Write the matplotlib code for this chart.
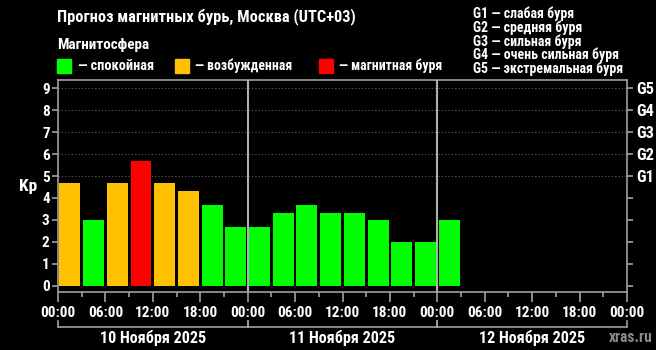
import matplotlib
matplotlib.use("Agg")
import matplotlib.pyplot as plt
import matplotlib.transforms as mtransforms
from matplotlib.patches import Rectangle
from matplotlib import font_manager as fm

# Data
kp_values = [4.67, 3.0, 4.67, 5.67, 4.67, 4.33, 3.67, 2.67,
             2.67, 3.33, 3.67, 3.33, 3.33, 3.0, 2.0, 2.0,
             3.0]
kp_status = ['orange', 'green', 'orange', 'red', 'orange', 'orange', 'green', 'green',
             'green', 'green', 'green', 'green', 'green', 'green', 'green', 'green',
             'green']
day_labels = ['10 Ноября 2025', '11 Ноября 2025', '12 Ноября 2025']
hour_labels = ['00:00', '06:00', '12:00', '18:00']
g_labels = ['G1', 'G2', 'G3', 'G4', 'G5']
g_descriptions = ['G1 — слабая буря', 'G2 — средняя буря', 'G3 — сильная буря',
                  'G4 — очень сильная буря', 'G5 — экстремальная буря']
legend_labels = ['— спокойная', '— возбужденная', '— магнитная буря']

available = {f.name for f in fm.fontManager.ttflist}
family = None
stretch = 'normal'
for cand in ['Liberation Sans Narrow', 'Arial Narrow', 'Roboto Condensed', 'PT Sans Narrow',
             'Open Sans Condensed', 'Archivo Narrow']:
    if cand in available:
        family = cand
        break
if family is None:
    family = 'DejaVu Sans'
    stretch = 'condensed'
plt.rcParams['font.family'] = [family, 'DejaVu Sans']
plt.rcParams['font.stretch'] = stretch
plt.rcParams['font.weight'] = 'bold'

colors = {'green': '#00FF00', 'orange': '#FFC000', 'red': '#FF0000'}
grey = '#a0a0a0'
W, H = 656, 350

fig = plt.figure(figsize=(6.56, 3.5), dpi=100, facecolor='black')
renderer = fig.canvas.get_renderer()


def fit(t, width_px):
    w = t.get_window_extent(renderer).width
    if w > 0:
        t.set_fontsize(t.get_fontsize() * width_px / w)
    return t


def size_for(text, width_px, base=10):
    t = fig.text(0, 0, text, fontsize=base)
    w = t.get_window_extent(renderer).width
    t.remove()
    return base * width_px / w


ax = fig.add_axes([58/W, 1-292/H, (627-58)/W, (292-80)/H])
ax.set_facecolor('black')

x = [1.5 + 3*i for i in range(len(kp_values))]
ax.bar(x, kp_values, width=2.65, color=[colors[s] for s in kp_status], zorder=3)

ax.set_xlim(0, 72)
ax.set_ylim(-0.29, 9.38)

for g in range(5, 10):
    ax.axhline(g, color='#606060', lw=0.8, ls=(0, (1, 2)), zorder=1)
for d in (24, 48):
    ax.axvline(d, color='#b0b0b0', lw=1.5, zorder=4)

for sp in ax.spines.values():
    sp.set_color(grey)
    sp.set_linewidth(1.2)

tick_fs = size_for('00:00', 35)
ax.set_xticks(range(0, 73, 6))
ax.set_xticklabels([hour_labels[(h // 6) % 4] for h in range(0, 73, 6)])
ax.set_xticks(range(3, 72, 6), minor=True)
ax.tick_params(axis='x', which='major', length=7, width=1.2, color=grey,
               labelcolor='white', labelsize=tick_fs, pad=3)
ax.tick_params(axis='x', which='minor', length=3.5, width=1.2, color=grey)

ax.set_yticks(range(0, 10))
ax.tick_params(axis='y', length=4, width=1.2, color=grey, labelcolor='white',
               labelsize=tick_fs, pad=2)

kp = fig.text(27.7/W, 1-186.5/H, 'Kp', color='white', fontsize=10, ha='center', va='center')
fit(kp, 18)

ax2 = ax.twinx()
ax2.set_ylim(ax.get_ylim())
ax2.set_yticks(range(0, 10))
ax2.set_yticklabels(['', '', '', '', ''] + g_labels)
ax2.tick_params(axis='y', length=4, width=1.2, color=grey, labelcolor='white',
                labelsize=size_for('G5', 17.7), pad=3)
for sp in ax2.spines.values():
    sp.set_visible(False)

# day brackets
trans = mtransforms.blended_transform_factory(ax.transData, ax.transAxes)
yb = -(327-292)/212
yt = -(321-292)/212
date_fs = size_for(day_labels[0], 106)
for i, lab in enumerate(day_labels):
    x0, x1 = 24*i, 24*(i+1)
    ax.plot([x0, x1], [yb, yb], color=grey, lw=1.2, transform=trans, clip_on=False,
            solid_capstyle='butt')
    ax.plot([x0, x0], [yt, yb], color=grey, lw=1.2, transform=trans, clip_on=False)
    ax.plot([x1, x1], [yt, yb], color=grey, lw=1.2, transform=trans, clip_on=False)
    ax.text((x0+x1)/2, -(337.5-292)/212, lab, transform=trans, color='white',
            fontsize=date_fs, ha='center', va='center')

xr = fig.text(631/W, 1-337/H, 'xras.ru', color='#8a8a8a', fontsize=10, ha='center', va='center')
fit(xr, 44)

# header
title = fig.text(56.7/W, 1-17/H, 'Прогноз магнитных бурь, Москва (UTC+03)', color='white',
                 fontsize=10, ha='left', va='center')
fit(title, 298)
mg = fig.text(56.7/W, 1-44.5/H, 'Магнитосфера', color='white', fontsize=10, ha='left', va='center')
fit(mg, 92)

sq_x = [56.7, 174.5, 318.8]
txt_x = [77.7, 194.6, 339]
txt_w = [75.6, 97, 103]
for sx, st, tx, tw, lab in zip(sq_x, ['green', 'orange', 'red'], txt_x, txt_w, legend_labels):
    fig.add_artist(Rectangle((sx/W, 1-72.7/H), 14/W, 13.7/H, transform=fig.transFigure,
                             color=colors[st]))
    t = fig.text(tx/W, 1-65.5/H, lab, color='white', fontsize=10, ha='left', va='center')
    fit(t, tw)

gy = [14, 27.6, 41.3, 55, 68.7]
g_fs = size_for(g_descriptions[4], 150.6)
for y, t in zip(gy, g_descriptions):
    fig.text(472.7/W, 1-y/H, t, color='white', fontsize=g_fs, ha='left', va='center')

fig.savefig('out.png', dpi=100, facecolor='black')
